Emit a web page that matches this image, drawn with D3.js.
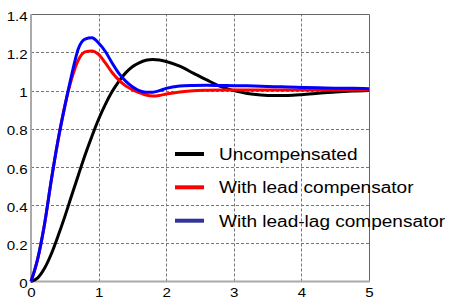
<!DOCTYPE html>
<html><head><meta charset="utf-8">
<script src="https://cdn.jsdelivr.net/npm/d3@7"></script>
<style>
html,body{margin:0;padding:0;background:#fff;}
svg{display:block;font-family:"Liberation Sans",Arial,sans-serif;}
</style></head>
<body><svg id="c" width="451" height="300"></svg>
<script>
const time = [0,0.1,0.2,0.3,0.4,0.5,0.6,0.7,0.8,0.9,1.0,1.1,1.2,1.3,1.4,1.5,1.6,1.7,1.8,1.9,2.0,2.2,2.4,2.6,2.8,3.0,3.2,3.4,3.6,3.8,4.0,4.25,4.5,4.75,5.0];
const uncompensated = [0,0.019,0.069,0.144,0.238,0.340,0.449,0.557,0.663,0.760,0.850,0.928,0.995,1.049,1.093,1.125,1.146,1.159,1.163,1.161,1.153,1.128,1.092,1.056,1.022,1.000,0.985,0.977,0.974,0.975,0.979,0.986,0.993,0.998,1.001];
const lead = [0,0.12,0.30,0.53,0.74,0.92,1.06,1.16,1.203,1.208,1.19,1.145,1.095,1.055,1.025,1.005,0.99,0.977,0.972,0.975,0.982,0.993,1.0,1.002,1.003,1.003,1.003,1.003,1.003,1.003,1.003,1.003,1.003,1.003,1.003];
const leadLag = [0,0.12,0.30,0.53,0.74,0.917,1.08,1.22,1.27,1.277,1.25,1.205,1.145,1.09,1.05,1.02,1.0,0.992,0.992,1.0,1.012,1.024,1.027,1.028,1.027,1.026,1.025,1.023,1.021,1.019,1.017,1.015,1.013,1.012,1.01];
const seriesNames = ["Uncompensated","With lead compensator","With lead-lag compensator"];
const xTicks = [0,1,2,3,4,5];
const yTicks = [0,0.2,0.4,0.6,0.8,1,1.2,1.4];
const yTickLabels = ["0","0.2","0.4","0.6","0.8","1","1.2","1.4"];

const svg = d3.select("#c");
const x = d3.scaleLinear().domain([0,5]).range([31,369]);
const y = d3.scaleLinear().domain([0,1.4]).range([281.5,14.3]);

// grid
const g = svg.append("g");
g.selectAll("line.hg").data(yTicks.slice(1,-1)).join("line")
  .attr("x1",x(0)).attr("x2",x(5)).attr("y1",d=>Math.round(y(d))+0.5).attr("y2",d=>Math.round(y(d))+0.5)
  .attr("stroke","#777").attr("stroke-dasharray","3,2").attr("stroke-width",1);
g.selectAll("line.vg").data(xTicks.slice(1,-1)).join("line")
  .attr("y1",y(0)).attr("y2",y(1.4)).attr("x1",d=>Math.round(x(d))+0.5).attr("x2",d=>Math.round(x(d))+0.5)
  .attr("stroke","#777").attr("stroke-dasharray","3,2").attr("stroke-width",1);

// frame
svg.append("line").attr("x1",x(0)).attr("x2",x(5)).attr("y1",Math.round(y(1.4))+0.5).attr("y2",Math.round(y(1.4))+0.5).attr("stroke","#666");
svg.append("line").attr("x1",Math.round(x(5))+0.5).attr("x2",Math.round(x(5))+0.5).attr("y1",y(1.4)).attr("y2",y(0)).attr("stroke","#666");
svg.append("line").attr("x1",x(0)-1).attr("x2",x(5)+1).attr("y1",y(0)).attr("y2",y(0)).attr("stroke","#aaa").attr("stroke-width",2);
svg.append("line").attr("x1",x(0)).attr("x2",x(0)).attr("y1",y(1.4)).attr("y2",y(0)+1).attr("stroke","#aaa").attr("stroke-width",2);

// axes labels via d3 axes
const xAxis = d3.axisBottom(x).tickValues(xTicks).tickFormat(d3.format("d")).tickSize(0).tickPadding(0);
const xa = svg.append("g").attr("transform",`translate(0,${y(0)})`).call(xAxis);
xa.select(".domain").remove();
xa.selectAll("text").attr("font-size",13.5).attr("font-family","Liberation Sans, Arial, sans-serif").attr("fill","#000")
  .attr("y",15.8).attr("dy",0).attr("transform","scale(1.12,1)");

const yAxis = d3.axisLeft(y).tickValues(yTicks).tickFormat((d,i)=>yTickLabels[i]).tickSize(0).tickPadding(3);
const ya = svg.append("g").attr("transform",`translate(${x(0)},0)`).call(yAxis);
ya.select(".domain").remove();
ya.selectAll("text").attr("font-size",13.5).attr("font-family","Liberation Sans, Arial, sans-serif").attr("fill","#000")
  .attr("dy","0.45em").attr("transform","scale(1.12,1)");

// curves
const colors = ["#000000","#ff0000","#0000ff"];
const line = d3.line().x((d,i)=>x(time[i])).y(d=>y(d)).curve(d3.curveMonotoneX);
svg.selectAll("path.s").data([uncompensated, lead, leadLag]).join("path")
  .attr("d",line).attr("fill","none").attr("stroke",(d,i)=>colors[i]).attr("stroke-width",3)
  .attr("stroke-linejoin","round");

// legend
const legColors = ["#000000","#ff0000","#333399"];
const leg = svg.append("g");
const rowY = [154,187.3,220.7];
seriesNames.forEach((n,i)=>{
  leg.append("line").attr("x1",175).attr("x2",204).attr("y1",rowY[i]).attr("y2",rowY[i])
    .attr("stroke",legColors[i]).attr("stroke-width",4);
  leg.append("text").attr("transform",`translate(219,${rowY[i]+6}) scale(1.1,1)`)
    .attr("font-size",17.3).attr("fill","#000").text(n);
});
</script></body></html>
